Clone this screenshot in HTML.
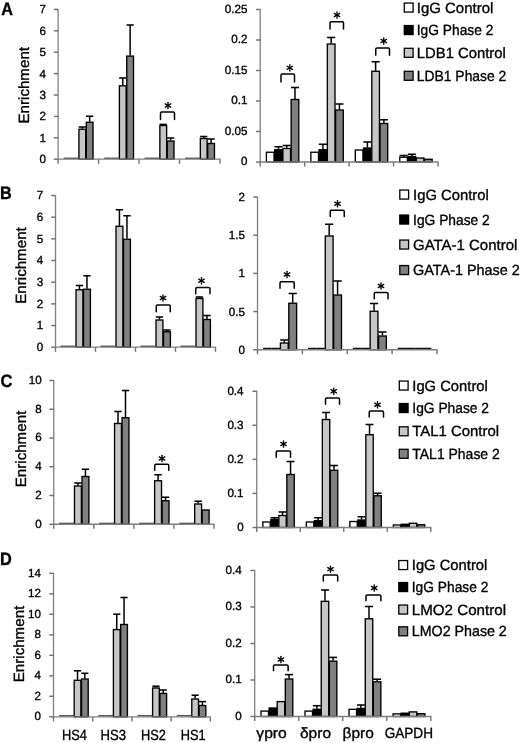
<!DOCTYPE html>
<html><head><meta charset="utf-8"><title>Figure</title>
<style>
html,body{margin:0;padding:0;background:#fff;}
body{width:520px;height:743px;overflow:hidden;}
svg{display:block;}
svg text{font-family:"Liberation Sans",sans-serif;fill:#000;stroke:#000;stroke-width:0.35px;text-rendering:geometricPrecision;}
</style></head><body>
<svg width="520" height="743" viewBox="0 0 520 743">
<defs><filter id="soft" x="0" y="0" width="520" height="743" filterUnits="userSpaceOnUse"><feGaussianBlur stdDeviation="0.38"/></filter></defs>
<rect width="520" height="743" fill="#fff"/>
<g filter="url(#soft)">
<rect width="520" height="743" fill="#fff"/>
<rect x="63.70" y="157.70" width="7.36" height="1.0" fill="#0a0a0a"/>
<rect x="71.06" y="157.70" width="7.36" height="1.0" fill="#0a0a0a"/>
<rect x="78.92" y="129.25" width="6.76" height="29.95" fill="#c6c6c6" stroke="#000" stroke-width="1.35"/>
<line x1="82.30" y1="128.75" x2="82.30" y2="127.00" stroke="#000" stroke-width="1.5" stroke-linecap="butt"/>
<line x1="78.69" y1="127.00" x2="85.91" y2="127.00" stroke="#000" stroke-width="1.55" stroke-linecap="butt"/>
<rect x="86.28" y="122.25" width="6.76" height="36.95" fill="#808080" stroke="#000" stroke-width="1.35"/>
<line x1="89.66" y1="121.75" x2="89.66" y2="116.25" stroke="#000" stroke-width="1.5" stroke-linecap="butt"/>
<line x1="86.05" y1="116.25" x2="93.27" y2="116.25" stroke="#000" stroke-width="1.55" stroke-linecap="butt"/>
<rect x="104.17" y="157.70" width="7.36" height="1.0" fill="#0a0a0a"/>
<rect x="111.53" y="157.70" width="7.36" height="1.0" fill="#0a0a0a"/>
<rect x="119.39" y="85.80" width="6.76" height="73.40" fill="#c6c6c6" stroke="#000" stroke-width="1.35"/>
<line x1="122.78" y1="85.30" x2="122.78" y2="78.00" stroke="#000" stroke-width="1.5" stroke-linecap="butt"/>
<line x1="119.17" y1="78.00" x2="126.38" y2="78.00" stroke="#000" stroke-width="1.55" stroke-linecap="butt"/>
<rect x="126.75" y="56.10" width="6.76" height="103.10" fill="#808080" stroke="#000" stroke-width="1.35"/>
<line x1="130.13" y1="55.60" x2="130.13" y2="25.00" stroke="#000" stroke-width="1.5" stroke-linecap="butt"/>
<line x1="126.53" y1="25.00" x2="133.74" y2="25.00" stroke="#000" stroke-width="1.55" stroke-linecap="butt"/>
<rect x="144.65" y="157.70" width="7.36" height="1.0" fill="#0a0a0a"/>
<rect x="152.01" y="157.70" width="7.36" height="1.0" fill="#0a0a0a"/>
<rect x="159.87" y="125.50" width="6.76" height="33.70" fill="#c6c6c6" stroke="#000" stroke-width="1.35"/>
<line x1="163.25" y1="125.00" x2="163.25" y2="124.40" stroke="#000" stroke-width="1.5" stroke-linecap="butt"/>
<line x1="159.64" y1="124.40" x2="166.86" y2="124.40" stroke="#000" stroke-width="1.55" stroke-linecap="butt"/>
<rect x="167.23" y="141.00" width="6.76" height="18.20" fill="#808080" stroke="#000" stroke-width="1.35"/>
<line x1="170.61" y1="140.50" x2="170.61" y2="138.00" stroke="#000" stroke-width="1.5" stroke-linecap="butt"/>
<line x1="167.00" y1="138.00" x2="174.22" y2="138.00" stroke="#000" stroke-width="1.55" stroke-linecap="butt"/>
<rect x="185.12" y="157.70" width="7.36" height="1.0" fill="#0a0a0a"/>
<rect x="192.49" y="157.70" width="7.36" height="1.0" fill="#0a0a0a"/>
<rect x="200.34" y="138.50" width="6.76" height="20.70" fill="#c6c6c6" stroke="#000" stroke-width="1.35"/>
<line x1="203.72" y1="138.00" x2="203.72" y2="136.50" stroke="#000" stroke-width="1.5" stroke-linecap="butt"/>
<line x1="200.12" y1="136.50" x2="207.33" y2="136.50" stroke="#000" stroke-width="1.55" stroke-linecap="butt"/>
<rect x="207.71" y="143.50" width="6.76" height="15.70" fill="#808080" stroke="#000" stroke-width="1.35"/>
<line x1="211.09" y1="143.00" x2="211.09" y2="139.00" stroke="#000" stroke-width="1.5" stroke-linecap="butt"/>
<line x1="207.48" y1="139.00" x2="214.69" y2="139.00" stroke="#000" stroke-width="1.55" stroke-linecap="butt"/>
<line x1="58.10" y1="9.00" x2="58.10" y2="159.80" stroke="#808080" stroke-width="1.3" stroke-linecap="butt"/>
<line x1="57.50" y1="159.20" x2="220.60" y2="159.20" stroke="#808080" stroke-width="1.3" stroke-linecap="butt"/>
<line x1="53.80" y1="9.40" x2="58.10" y2="9.40" stroke="#727272" stroke-width="1.45" stroke-linecap="butt"/>
<text x="39.45" y="13.45" font-size="11.8" font-weight="normal" text-anchor="start" textLength="6.45" lengthAdjust="spacingAndGlyphs">7</text>
<line x1="53.80" y1="30.80" x2="58.10" y2="30.80" stroke="#727272" stroke-width="1.45" stroke-linecap="butt"/>
<text x="39.45" y="34.85" font-size="11.8" font-weight="normal" text-anchor="start" textLength="6.45" lengthAdjust="spacingAndGlyphs">6</text>
<line x1="53.80" y1="52.20" x2="58.10" y2="52.20" stroke="#727272" stroke-width="1.45" stroke-linecap="butt"/>
<text x="39.45" y="56.25" font-size="11.8" font-weight="normal" text-anchor="start" textLength="6.45" lengthAdjust="spacingAndGlyphs">5</text>
<line x1="53.80" y1="73.60" x2="58.10" y2="73.60" stroke="#727272" stroke-width="1.45" stroke-linecap="butt"/>
<text x="39.45" y="77.65" font-size="11.8" font-weight="normal" text-anchor="start" textLength="6.45" lengthAdjust="spacingAndGlyphs">4</text>
<line x1="53.80" y1="95.00" x2="58.10" y2="95.00" stroke="#727272" stroke-width="1.45" stroke-linecap="butt"/>
<text x="39.45" y="99.05" font-size="11.8" font-weight="normal" text-anchor="start" textLength="6.45" lengthAdjust="spacingAndGlyphs">3</text>
<line x1="53.80" y1="116.40" x2="58.10" y2="116.40" stroke="#727272" stroke-width="1.45" stroke-linecap="butt"/>
<text x="39.45" y="120.45" font-size="11.8" font-weight="normal" text-anchor="start" textLength="6.45" lengthAdjust="spacingAndGlyphs">2</text>
<line x1="53.80" y1="137.80" x2="58.10" y2="137.80" stroke="#727272" stroke-width="1.45" stroke-linecap="butt"/>
<text x="39.45" y="141.85" font-size="11.8" font-weight="normal" text-anchor="start" textLength="6.45" lengthAdjust="spacingAndGlyphs">1</text>
<line x1="53.80" y1="159.20" x2="58.10" y2="159.20" stroke="#727272" stroke-width="1.45" stroke-linecap="butt"/>
<text x="39.45" y="163.25" font-size="11.8" font-weight="normal" text-anchor="start" textLength="6.45" lengthAdjust="spacingAndGlyphs">0</text>
<line x1="58.10" y1="159.20" x2="58.10" y2="163.80" stroke="#727272" stroke-width="1.4" stroke-linecap="butt"/>
<line x1="98.58" y1="159.20" x2="98.58" y2="163.80" stroke="#727272" stroke-width="1.4" stroke-linecap="butt"/>
<line x1="139.05" y1="159.20" x2="139.05" y2="163.80" stroke="#727272" stroke-width="1.4" stroke-linecap="butt"/>
<line x1="179.53" y1="159.20" x2="179.53" y2="163.80" stroke="#727272" stroke-width="1.4" stroke-linecap="butt"/>
<line x1="220.00" y1="159.20" x2="220.00" y2="163.80" stroke="#727272" stroke-width="1.4" stroke-linecap="butt"/>
<path d="M160.50 119.50 V113.20 Q160.50 112.00 161.70 112.00 H173.30 Q174.50 112.00 174.50 113.20 V119.50" fill="none" stroke="#000" stroke-width="1.5" stroke-linecap="round"/>
<line x1="168.00" y1="102.35" x2="168.00" y2="108.65" stroke="#000" stroke-width="1.35" stroke-linecap="round"/>
<line x1="165.27" y1="103.92" x2="170.73" y2="107.08" stroke="#000" stroke-width="1.35" stroke-linecap="round"/>
<line x1="170.73" y1="103.92" x2="165.27" y2="107.08" stroke="#000" stroke-width="1.35" stroke-linecap="round"/>
<rect x="266.40" y="152.25" width="7.65" height="9.75" fill="#ffffff" stroke="#000" stroke-width="1.35"/>
<rect x="274.65" y="149.75" width="7.65" height="12.25" fill="#000000" stroke="#000" stroke-width="1.35"/>
<line x1="278.47" y1="149.25" x2="278.47" y2="146.75" stroke="#000" stroke-width="1.5" stroke-linecap="butt"/>
<line x1="274.43" y1="146.75" x2="282.52" y2="146.75" stroke="#000" stroke-width="1.55" stroke-linecap="butt"/>
<rect x="282.90" y="148.50" width="7.65" height="13.50" fill="#c6c6c6" stroke="#000" stroke-width="1.35"/>
<line x1="286.72" y1="148.00" x2="286.72" y2="145.50" stroke="#000" stroke-width="1.5" stroke-linecap="butt"/>
<line x1="282.68" y1="145.50" x2="290.77" y2="145.50" stroke="#000" stroke-width="1.55" stroke-linecap="butt"/>
<rect x="291.15" y="99.50" width="7.65" height="62.50" fill="#808080" stroke="#000" stroke-width="1.35"/>
<line x1="294.97" y1="99.00" x2="294.97" y2="87.50" stroke="#000" stroke-width="1.5" stroke-linecap="butt"/>
<line x1="290.93" y1="87.50" x2="299.02" y2="87.50" stroke="#000" stroke-width="1.55" stroke-linecap="butt"/>
<rect x="310.85" y="152.25" width="7.65" height="9.75" fill="#ffffff" stroke="#000" stroke-width="1.35"/>
<rect x="319.10" y="149.75" width="7.65" height="12.25" fill="#000000" stroke="#000" stroke-width="1.35"/>
<line x1="322.92" y1="149.25" x2="322.92" y2="144.25" stroke="#000" stroke-width="1.5" stroke-linecap="butt"/>
<line x1="318.88" y1="144.25" x2="326.97" y2="144.25" stroke="#000" stroke-width="1.55" stroke-linecap="butt"/>
<rect x="327.35" y="44.00" width="7.65" height="118.00" fill="#c6c6c6" stroke="#000" stroke-width="1.35"/>
<line x1="331.17" y1="43.50" x2="331.17" y2="37.50" stroke="#000" stroke-width="1.5" stroke-linecap="butt"/>
<line x1="327.13" y1="37.50" x2="335.22" y2="37.50" stroke="#000" stroke-width="1.55" stroke-linecap="butt"/>
<rect x="335.60" y="110.00" width="7.65" height="52.00" fill="#808080" stroke="#000" stroke-width="1.35"/>
<line x1="339.42" y1="109.50" x2="339.42" y2="104.00" stroke="#000" stroke-width="1.5" stroke-linecap="butt"/>
<line x1="335.38" y1="104.00" x2="343.47" y2="104.00" stroke="#000" stroke-width="1.55" stroke-linecap="butt"/>
<rect x="355.30" y="150.00" width="7.65" height="12.00" fill="#ffffff" stroke="#000" stroke-width="1.35"/>
<rect x="363.55" y="148.00" width="7.65" height="14.00" fill="#000000" stroke="#000" stroke-width="1.35"/>
<line x1="367.38" y1="147.50" x2="367.38" y2="142.00" stroke="#000" stroke-width="1.5" stroke-linecap="butt"/>
<line x1="363.33" y1="142.00" x2="371.42" y2="142.00" stroke="#000" stroke-width="1.55" stroke-linecap="butt"/>
<rect x="371.80" y="71.25" width="7.65" height="90.75" fill="#c6c6c6" stroke="#000" stroke-width="1.35"/>
<line x1="375.62" y1="70.75" x2="375.62" y2="61.75" stroke="#000" stroke-width="1.5" stroke-linecap="butt"/>
<line x1="371.58" y1="61.75" x2="379.67" y2="61.75" stroke="#000" stroke-width="1.55" stroke-linecap="butt"/>
<rect x="380.05" y="123.50" width="7.65" height="38.50" fill="#808080" stroke="#000" stroke-width="1.35"/>
<line x1="383.88" y1="123.00" x2="383.88" y2="119.75" stroke="#000" stroke-width="1.5" stroke-linecap="butt"/>
<line x1="379.83" y1="119.75" x2="387.92" y2="119.75" stroke="#000" stroke-width="1.55" stroke-linecap="butt"/>
<rect x="399.75" y="157.25" width="7.65" height="4.75" fill="#ffffff" stroke="#000" stroke-width="1.35"/>
<line x1="403.57" y1="156.75" x2="403.57" y2="155.50" stroke="#000" stroke-width="1.5" stroke-linecap="butt"/>
<line x1="399.53" y1="155.50" x2="407.62" y2="155.50" stroke="#000" stroke-width="1.55" stroke-linecap="butt"/>
<rect x="408.00" y="156.50" width="7.65" height="5.50" fill="#000000" stroke="#000" stroke-width="1.35"/>
<line x1="411.82" y1="156.00" x2="411.82" y2="154.25" stroke="#000" stroke-width="1.5" stroke-linecap="butt"/>
<line x1="407.78" y1="154.25" x2="415.87" y2="154.25" stroke="#000" stroke-width="1.55" stroke-linecap="butt"/>
<rect x="416.25" y="158.00" width="7.65" height="4.00" fill="#c6c6c6" stroke="#000" stroke-width="1.35"/>
<rect x="424.50" y="159.25" width="7.65" height="2.75" fill="#808080" stroke="#000" stroke-width="1.35"/>
<line x1="260.20" y1="9.10" x2="260.20" y2="162.60" stroke="#808080" stroke-width="1.3" stroke-linecap="butt"/>
<line x1="259.60" y1="162.00" x2="438.60" y2="162.00" stroke="#808080" stroke-width="1.3" stroke-linecap="butt"/>
<line x1="255.90" y1="9.50" x2="260.20" y2="9.50" stroke="#727272" stroke-width="1.45" stroke-linecap="butt"/>
<text x="224.75" y="12.90" font-size="11.8" font-weight="normal" text-anchor="start" textLength="22.65" lengthAdjust="spacingAndGlyphs">0.25</text>
<line x1="255.90" y1="40.00" x2="260.20" y2="40.00" stroke="#727272" stroke-width="1.45" stroke-linecap="butt"/>
<text x="231.20" y="43.40" font-size="11.8" font-weight="normal" text-anchor="start" textLength="16.20" lengthAdjust="spacingAndGlyphs">0.2</text>
<line x1="255.90" y1="70.50" x2="260.20" y2="70.50" stroke="#727272" stroke-width="1.45" stroke-linecap="butt"/>
<text x="224.75" y="73.90" font-size="11.8" font-weight="normal" text-anchor="start" textLength="22.65" lengthAdjust="spacingAndGlyphs">0.15</text>
<line x1="255.90" y1="101.00" x2="260.20" y2="101.00" stroke="#727272" stroke-width="1.45" stroke-linecap="butt"/>
<text x="231.20" y="104.40" font-size="11.8" font-weight="normal" text-anchor="start" textLength="16.20" lengthAdjust="spacingAndGlyphs">0.1</text>
<line x1="255.90" y1="131.50" x2="260.20" y2="131.50" stroke="#727272" stroke-width="1.45" stroke-linecap="butt"/>
<text x="224.75" y="134.90" font-size="11.8" font-weight="normal" text-anchor="start" textLength="22.65" lengthAdjust="spacingAndGlyphs">0.05</text>
<line x1="255.90" y1="162.00" x2="260.20" y2="162.00" stroke="#727272" stroke-width="1.45" stroke-linecap="butt"/>
<text x="240.95" y="165.40" font-size="11.8" font-weight="normal" text-anchor="start" textLength="6.45" lengthAdjust="spacingAndGlyphs">0</text>
<line x1="260.20" y1="162.00" x2="260.20" y2="166.60" stroke="#727272" stroke-width="1.4" stroke-linecap="butt"/>
<line x1="304.65" y1="162.00" x2="304.65" y2="166.60" stroke="#727272" stroke-width="1.4" stroke-linecap="butt"/>
<line x1="349.10" y1="162.00" x2="349.10" y2="166.60" stroke="#727272" stroke-width="1.4" stroke-linecap="butt"/>
<line x1="393.55" y1="162.00" x2="393.55" y2="166.60" stroke="#727272" stroke-width="1.4" stroke-linecap="butt"/>
<line x1="438.00" y1="162.00" x2="438.00" y2="166.60" stroke="#727272" stroke-width="1.4" stroke-linecap="butt"/>
<path d="M281.00 82.00 V75.20 Q281.00 74.00 282.20 74.00 H293.30 Q294.50 74.00 294.50 75.20 V82.00" fill="none" stroke="#000" stroke-width="1.5" stroke-linecap="round"/>
<line x1="289.80" y1="64.65" x2="289.80" y2="70.95" stroke="#000" stroke-width="1.35" stroke-linecap="round"/>
<line x1="287.07" y1="66.22" x2="292.53" y2="69.38" stroke="#000" stroke-width="1.35" stroke-linecap="round"/>
<line x1="292.53" y1="66.22" x2="287.07" y2="69.38" stroke="#000" stroke-width="1.35" stroke-linecap="round"/>
<path d="M330.00 29.00 V22.95 Q330.00 21.75 331.20 21.75 H342.30 Q343.50 21.75 343.50 22.95 V29.00" fill="none" stroke="#000" stroke-width="1.5" stroke-linecap="round"/>
<line x1="337.00" y1="11.85" x2="337.00" y2="18.15" stroke="#000" stroke-width="1.35" stroke-linecap="round"/>
<line x1="334.27" y1="13.43" x2="339.73" y2="16.57" stroke="#000" stroke-width="1.35" stroke-linecap="round"/>
<line x1="339.73" y1="13.43" x2="334.27" y2="16.57" stroke="#000" stroke-width="1.35" stroke-linecap="round"/>
<path d="M375.75 55.25 V49.20 Q375.75 48.00 376.95 48.00 H388.30 Q389.50 48.00 389.50 49.20 V55.25" fill="none" stroke="#000" stroke-width="1.5" stroke-linecap="round"/>
<line x1="383.75" y1="37.85" x2="383.75" y2="44.15" stroke="#000" stroke-width="1.35" stroke-linecap="round"/>
<line x1="381.02" y1="39.42" x2="386.48" y2="42.58" stroke="#000" stroke-width="1.35" stroke-linecap="round"/>
<line x1="386.48" y1="39.42" x2="381.02" y2="42.58" stroke="#000" stroke-width="1.35" stroke-linecap="round"/>
<rect x="60.50" y="345.70" width="7.50" height="1.0" fill="#0a0a0a"/>
<rect x="68.00" y="345.70" width="7.50" height="1.0" fill="#0a0a0a"/>
<rect x="76.00" y="289.75" width="6.90" height="57.45" fill="#c6c6c6" stroke="#000" stroke-width="1.35"/>
<line x1="79.45" y1="289.25" x2="79.45" y2="285.50" stroke="#000" stroke-width="1.5" stroke-linecap="butt"/>
<line x1="75.78" y1="285.50" x2="83.12" y2="285.50" stroke="#000" stroke-width="1.55" stroke-linecap="butt"/>
<rect x="83.50" y="289.25" width="6.90" height="57.95" fill="#808080" stroke="#000" stroke-width="1.35"/>
<line x1="86.95" y1="288.75" x2="86.95" y2="275.75" stroke="#000" stroke-width="1.5" stroke-linecap="butt"/>
<line x1="83.28" y1="275.75" x2="90.62" y2="275.75" stroke="#000" stroke-width="1.55" stroke-linecap="butt"/>
<rect x="100.50" y="345.70" width="7.50" height="1.0" fill="#0a0a0a"/>
<rect x="108.00" y="345.70" width="7.50" height="1.0" fill="#0a0a0a"/>
<rect x="116.00" y="226.25" width="6.90" height="120.95" fill="#c6c6c6" stroke="#000" stroke-width="1.35"/>
<line x1="119.45" y1="225.75" x2="119.45" y2="209.75" stroke="#000" stroke-width="1.5" stroke-linecap="butt"/>
<line x1="115.78" y1="209.75" x2="123.12" y2="209.75" stroke="#000" stroke-width="1.55" stroke-linecap="butt"/>
<rect x="123.50" y="239.25" width="6.90" height="107.95" fill="#808080" stroke="#000" stroke-width="1.35"/>
<line x1="126.95" y1="238.75" x2="126.95" y2="215.75" stroke="#000" stroke-width="1.5" stroke-linecap="butt"/>
<line x1="123.28" y1="215.75" x2="130.62" y2="215.75" stroke="#000" stroke-width="1.55" stroke-linecap="butt"/>
<rect x="140.50" y="345.70" width="7.50" height="1.0" fill="#0a0a0a"/>
<rect x="148.00" y="345.70" width="7.50" height="1.0" fill="#0a0a0a"/>
<rect x="156.00" y="320.00" width="6.90" height="27.20" fill="#c6c6c6" stroke="#000" stroke-width="1.35"/>
<line x1="159.45" y1="319.50" x2="159.45" y2="317.00" stroke="#000" stroke-width="1.5" stroke-linecap="butt"/>
<line x1="155.77" y1="317.00" x2="163.12" y2="317.00" stroke="#000" stroke-width="1.55" stroke-linecap="butt"/>
<rect x="163.50" y="331.75" width="6.90" height="15.45" fill="#808080" stroke="#000" stroke-width="1.35"/>
<line x1="166.95" y1="331.25" x2="166.95" y2="330.00" stroke="#000" stroke-width="1.5" stroke-linecap="butt"/>
<line x1="163.27" y1="330.00" x2="170.62" y2="330.00" stroke="#000" stroke-width="1.55" stroke-linecap="butt"/>
<rect x="180.50" y="345.70" width="7.50" height="1.0" fill="#0a0a0a"/>
<rect x="188.00" y="345.70" width="7.50" height="1.0" fill="#0a0a0a"/>
<rect x="196.00" y="298.50" width="6.90" height="48.70" fill="#c6c6c6" stroke="#000" stroke-width="1.35"/>
<line x1="199.45" y1="298.00" x2="199.45" y2="297.00" stroke="#000" stroke-width="1.5" stroke-linecap="butt"/>
<line x1="195.77" y1="297.00" x2="203.12" y2="297.00" stroke="#000" stroke-width="1.55" stroke-linecap="butt"/>
<rect x="203.50" y="319.50" width="6.90" height="27.70" fill="#808080" stroke="#000" stroke-width="1.35"/>
<line x1="206.95" y1="319.00" x2="206.95" y2="315.50" stroke="#000" stroke-width="1.5" stroke-linecap="butt"/>
<line x1="203.27" y1="315.50" x2="210.62" y2="315.50" stroke="#000" stroke-width="1.55" stroke-linecap="butt"/>
<line x1="55.50" y1="195.10" x2="55.50" y2="347.80" stroke="#808080" stroke-width="1.3" stroke-linecap="butt"/>
<line x1="54.90" y1="347.20" x2="216.10" y2="347.20" stroke="#808080" stroke-width="1.3" stroke-linecap="butt"/>
<line x1="51.20" y1="195.50" x2="55.50" y2="195.50" stroke="#727272" stroke-width="1.45" stroke-linecap="butt"/>
<text x="36.85" y="199.20" font-size="11.8" font-weight="normal" text-anchor="start" textLength="6.45" lengthAdjust="spacingAndGlyphs">7</text>
<line x1="51.20" y1="217.17" x2="55.50" y2="217.17" stroke="#727272" stroke-width="1.45" stroke-linecap="butt"/>
<text x="36.85" y="220.87" font-size="11.8" font-weight="normal" text-anchor="start" textLength="6.45" lengthAdjust="spacingAndGlyphs">6</text>
<line x1="51.20" y1="238.84" x2="55.50" y2="238.84" stroke="#727272" stroke-width="1.45" stroke-linecap="butt"/>
<text x="36.85" y="242.54" font-size="11.8" font-weight="normal" text-anchor="start" textLength="6.45" lengthAdjust="spacingAndGlyphs">5</text>
<line x1="51.20" y1="260.51" x2="55.50" y2="260.51" stroke="#727272" stroke-width="1.45" stroke-linecap="butt"/>
<text x="36.85" y="264.21" font-size="11.8" font-weight="normal" text-anchor="start" textLength="6.45" lengthAdjust="spacingAndGlyphs">4</text>
<line x1="51.20" y1="282.19" x2="55.50" y2="282.19" stroke="#727272" stroke-width="1.45" stroke-linecap="butt"/>
<text x="36.85" y="285.89" font-size="11.8" font-weight="normal" text-anchor="start" textLength="6.45" lengthAdjust="spacingAndGlyphs">3</text>
<line x1="51.20" y1="303.86" x2="55.50" y2="303.86" stroke="#727272" stroke-width="1.45" stroke-linecap="butt"/>
<text x="36.85" y="307.56" font-size="11.8" font-weight="normal" text-anchor="start" textLength="6.45" lengthAdjust="spacingAndGlyphs">2</text>
<line x1="51.20" y1="325.53" x2="55.50" y2="325.53" stroke="#727272" stroke-width="1.45" stroke-linecap="butt"/>
<text x="36.85" y="329.23" font-size="11.8" font-weight="normal" text-anchor="start" textLength="6.45" lengthAdjust="spacingAndGlyphs">1</text>
<line x1="51.20" y1="347.20" x2="55.50" y2="347.20" stroke="#727272" stroke-width="1.45" stroke-linecap="butt"/>
<text x="36.85" y="350.90" font-size="11.8" font-weight="normal" text-anchor="start" textLength="6.45" lengthAdjust="spacingAndGlyphs">0</text>
<line x1="55.50" y1="347.20" x2="55.50" y2="351.80" stroke="#727272" stroke-width="1.4" stroke-linecap="butt"/>
<line x1="95.50" y1="347.20" x2="95.50" y2="351.80" stroke="#727272" stroke-width="1.4" stroke-linecap="butt"/>
<line x1="135.50" y1="347.20" x2="135.50" y2="351.80" stroke="#727272" stroke-width="1.4" stroke-linecap="butt"/>
<line x1="175.50" y1="347.20" x2="175.50" y2="351.80" stroke="#727272" stroke-width="1.4" stroke-linecap="butt"/>
<line x1="215.50" y1="347.20" x2="215.50" y2="351.80" stroke="#727272" stroke-width="1.4" stroke-linecap="butt"/>
<path d="M156.25 311.75 V306.20 Q156.25 305.00 157.45 305.00 H169.05 Q170.25 305.00 170.25 306.20 V311.75" fill="none" stroke="#000" stroke-width="1.5" stroke-linecap="round"/>
<line x1="163.00" y1="294.85" x2="163.00" y2="301.15" stroke="#000" stroke-width="1.35" stroke-linecap="round"/>
<line x1="160.27" y1="296.43" x2="165.73" y2="299.57" stroke="#000" stroke-width="1.35" stroke-linecap="round"/>
<line x1="165.73" y1="296.43" x2="160.27" y2="299.57" stroke="#000" stroke-width="1.35" stroke-linecap="round"/>
<path d="M195.75 293.75 V288.70 Q195.75 287.50 196.95 287.50 H208.80 Q210.00 287.50 210.00 288.70 V293.75" fill="none" stroke="#000" stroke-width="1.5" stroke-linecap="round"/>
<line x1="201.50" y1="277.60" x2="201.50" y2="283.90" stroke="#000" stroke-width="1.35" stroke-linecap="round"/>
<line x1="198.77" y1="279.18" x2="204.23" y2="282.32" stroke="#000" stroke-width="1.35" stroke-linecap="round"/>
<line x1="204.23" y1="279.18" x2="198.77" y2="282.32" stroke="#000" stroke-width="1.35" stroke-linecap="round"/>
<rect x="263.10" y="347.75" width="8.40" height="1.5" fill="#0a0a0a"/>
<rect x="271.50" y="347.75" width="8.40" height="1.5" fill="#0a0a0a"/>
<rect x="280.40" y="343.00" width="7.80" height="6.75" fill="#c6c6c6" stroke="#000" stroke-width="1.35"/>
<line x1="284.30" y1="342.50" x2="284.30" y2="340.00" stroke="#000" stroke-width="1.5" stroke-linecap="butt"/>
<line x1="280.18" y1="340.00" x2="288.42" y2="340.00" stroke="#000" stroke-width="1.55" stroke-linecap="butt"/>
<rect x="288.80" y="303.25" width="7.80" height="46.50" fill="#808080" stroke="#000" stroke-width="1.35"/>
<line x1="292.70" y1="302.75" x2="292.70" y2="293.50" stroke="#000" stroke-width="1.5" stroke-linecap="butt"/>
<line x1="288.58" y1="293.50" x2="296.82" y2="293.50" stroke="#000" stroke-width="1.55" stroke-linecap="butt"/>
<rect x="307.98" y="347.75" width="8.40" height="1.5" fill="#0a0a0a"/>
<rect x="316.38" y="347.75" width="8.40" height="1.5" fill="#0a0a0a"/>
<rect x="325.28" y="236.00" width="7.80" height="113.75" fill="#c6c6c6" stroke="#000" stroke-width="1.35"/>
<line x1="329.18" y1="235.50" x2="329.18" y2="224.25" stroke="#000" stroke-width="1.5" stroke-linecap="butt"/>
<line x1="325.06" y1="224.25" x2="333.29" y2="224.25" stroke="#000" stroke-width="1.55" stroke-linecap="butt"/>
<rect x="333.68" y="295.00" width="7.80" height="54.75" fill="#808080" stroke="#000" stroke-width="1.35"/>
<line x1="337.57" y1="294.50" x2="337.57" y2="281.00" stroke="#000" stroke-width="1.5" stroke-linecap="butt"/>
<line x1="333.46" y1="281.00" x2="341.69" y2="281.00" stroke="#000" stroke-width="1.55" stroke-linecap="butt"/>
<rect x="352.85" y="347.75" width="8.40" height="1.5" fill="#0a0a0a"/>
<rect x="361.25" y="347.75" width="8.40" height="1.5" fill="#0a0a0a"/>
<rect x="370.15" y="311.25" width="7.80" height="38.50" fill="#c6c6c6" stroke="#000" stroke-width="1.35"/>
<line x1="374.05" y1="310.75" x2="374.05" y2="303.50" stroke="#000" stroke-width="1.5" stroke-linecap="butt"/>
<line x1="369.93" y1="303.50" x2="378.17" y2="303.50" stroke="#000" stroke-width="1.55" stroke-linecap="butt"/>
<rect x="378.55" y="336.00" width="7.80" height="13.75" fill="#808080" stroke="#000" stroke-width="1.35"/>
<line x1="382.45" y1="335.50" x2="382.45" y2="332.00" stroke="#000" stroke-width="1.5" stroke-linecap="butt"/>
<line x1="378.33" y1="332.00" x2="386.57" y2="332.00" stroke="#000" stroke-width="1.55" stroke-linecap="butt"/>
<rect x="397.73" y="347.75" width="8.40" height="1.5" fill="#0a0a0a"/>
<rect x="406.12" y="347.75" width="8.40" height="1.5" fill="#0a0a0a"/>
<rect x="414.53" y="347.75" width="8.40" height="1.5" fill="#0a0a0a"/>
<rect x="422.93" y="347.75" width="8.40" height="1.5" fill="#0a0a0a"/>
<line x1="257.50" y1="196.60" x2="257.50" y2="350.35" stroke="#808080" stroke-width="1.3" stroke-linecap="butt"/>
<line x1="256.90" y1="349.75" x2="437.60" y2="349.75" stroke="#808080" stroke-width="1.3" stroke-linecap="butt"/>
<line x1="253.20" y1="197.00" x2="257.50" y2="197.00" stroke="#727272" stroke-width="1.45" stroke-linecap="butt"/>
<text x="238.60" y="201.00" font-size="11.8" font-weight="normal" text-anchor="start" textLength="6.45" lengthAdjust="spacingAndGlyphs">2</text>
<line x1="253.20" y1="235.19" x2="257.50" y2="235.19" stroke="#727272" stroke-width="1.45" stroke-linecap="butt"/>
<text x="228.85" y="239.19" font-size="11.8" font-weight="normal" text-anchor="start" textLength="16.20" lengthAdjust="spacingAndGlyphs">1.5</text>
<line x1="253.20" y1="273.38" x2="257.50" y2="273.38" stroke="#727272" stroke-width="1.45" stroke-linecap="butt"/>
<text x="238.60" y="277.38" font-size="11.8" font-weight="normal" text-anchor="start" textLength="6.45" lengthAdjust="spacingAndGlyphs">1</text>
<line x1="253.20" y1="311.56" x2="257.50" y2="311.56" stroke="#727272" stroke-width="1.45" stroke-linecap="butt"/>
<text x="228.85" y="315.56" font-size="11.8" font-weight="normal" text-anchor="start" textLength="16.20" lengthAdjust="spacingAndGlyphs">0.5</text>
<line x1="253.20" y1="349.75" x2="257.50" y2="349.75" stroke="#727272" stroke-width="1.45" stroke-linecap="butt"/>
<text x="238.60" y="353.75" font-size="11.8" font-weight="normal" text-anchor="start" textLength="6.45" lengthAdjust="spacingAndGlyphs">0</text>
<line x1="257.50" y1="349.75" x2="257.50" y2="354.35" stroke="#727272" stroke-width="1.4" stroke-linecap="butt"/>
<line x1="302.38" y1="349.75" x2="302.38" y2="354.35" stroke="#727272" stroke-width="1.4" stroke-linecap="butt"/>
<line x1="347.25" y1="349.75" x2="347.25" y2="354.35" stroke="#727272" stroke-width="1.4" stroke-linecap="butt"/>
<line x1="392.12" y1="349.75" x2="392.12" y2="354.35" stroke="#727272" stroke-width="1.4" stroke-linecap="butt"/>
<line x1="437.00" y1="349.75" x2="437.00" y2="354.35" stroke="#727272" stroke-width="1.4" stroke-linecap="butt"/>
<path d="M280.00 288.25 V282.95 Q280.00 281.75 281.20 281.75 H293.05 Q294.25 281.75 294.25 282.95 V288.25" fill="none" stroke="#000" stroke-width="1.5" stroke-linecap="round"/>
<line x1="287.00" y1="271.35" x2="287.00" y2="277.65" stroke="#000" stroke-width="1.35" stroke-linecap="round"/>
<line x1="284.27" y1="272.93" x2="289.73" y2="276.07" stroke="#000" stroke-width="1.35" stroke-linecap="round"/>
<line x1="289.73" y1="272.93" x2="284.27" y2="276.07" stroke="#000" stroke-width="1.35" stroke-linecap="round"/>
<path d="M330.25 216.50 V211.45 Q330.25 210.25 331.45 210.25 H343.05 Q344.25 210.25 344.25 211.45 V216.50" fill="none" stroke="#000" stroke-width="1.5" stroke-linecap="round"/>
<line x1="337.50" y1="200.60" x2="337.50" y2="206.90" stroke="#000" stroke-width="1.35" stroke-linecap="round"/>
<line x1="334.77" y1="202.18" x2="340.23" y2="205.32" stroke="#000" stroke-width="1.35" stroke-linecap="round"/>
<line x1="340.23" y1="202.18" x2="334.77" y2="205.32" stroke="#000" stroke-width="1.35" stroke-linecap="round"/>
<path d="M374.25 298.75 V293.70 Q374.25 292.50 375.45 292.50 H386.80 Q388.00 292.50 388.00 293.70 V298.75" fill="none" stroke="#000" stroke-width="1.5" stroke-linecap="round"/>
<line x1="381.00" y1="282.85" x2="381.00" y2="289.15" stroke="#000" stroke-width="1.35" stroke-linecap="round"/>
<line x1="378.27" y1="284.43" x2="383.73" y2="287.57" stroke="#000" stroke-width="1.35" stroke-linecap="round"/>
<line x1="383.73" y1="284.43" x2="378.27" y2="287.57" stroke="#000" stroke-width="1.35" stroke-linecap="round"/>
<rect x="59.00" y="522.75" width="7.50" height="1.0" fill="#0a0a0a"/>
<rect x="66.50" y="522.75" width="7.50" height="1.0" fill="#0a0a0a"/>
<rect x="74.50" y="486.00" width="6.90" height="38.25" fill="#c6c6c6" stroke="#000" stroke-width="1.35"/>
<line x1="77.95" y1="485.50" x2="77.95" y2="483.00" stroke="#000" stroke-width="1.5" stroke-linecap="butt"/>
<line x1="74.28" y1="483.00" x2="81.62" y2="483.00" stroke="#000" stroke-width="1.55" stroke-linecap="butt"/>
<rect x="82.00" y="476.50" width="6.90" height="47.75" fill="#808080" stroke="#000" stroke-width="1.35"/>
<line x1="85.45" y1="476.00" x2="85.45" y2="469.25" stroke="#000" stroke-width="1.5" stroke-linecap="butt"/>
<line x1="81.78" y1="469.25" x2="89.12" y2="469.25" stroke="#000" stroke-width="1.55" stroke-linecap="butt"/>
<rect x="99.06" y="522.75" width="7.50" height="1.0" fill="#0a0a0a"/>
<rect x="106.56" y="522.75" width="7.50" height="1.0" fill="#0a0a0a"/>
<rect x="114.56" y="423.50" width="6.90" height="100.75" fill="#c6c6c6" stroke="#000" stroke-width="1.35"/>
<line x1="118.01" y1="423.00" x2="118.01" y2="411.50" stroke="#000" stroke-width="1.5" stroke-linecap="butt"/>
<line x1="114.34" y1="411.50" x2="121.69" y2="411.50" stroke="#000" stroke-width="1.55" stroke-linecap="butt"/>
<rect x="122.06" y="417.75" width="6.90" height="106.50" fill="#808080" stroke="#000" stroke-width="1.35"/>
<line x1="125.51" y1="417.25" x2="125.51" y2="390.50" stroke="#000" stroke-width="1.5" stroke-linecap="butt"/>
<line x1="121.84" y1="390.50" x2="129.19" y2="390.50" stroke="#000" stroke-width="1.55" stroke-linecap="butt"/>
<rect x="139.12" y="522.75" width="7.50" height="1.0" fill="#0a0a0a"/>
<rect x="146.62" y="522.75" width="7.50" height="1.0" fill="#0a0a0a"/>
<rect x="154.62" y="480.75" width="6.90" height="43.50" fill="#c6c6c6" stroke="#000" stroke-width="1.35"/>
<line x1="158.07" y1="480.25" x2="158.07" y2="474.75" stroke="#000" stroke-width="1.5" stroke-linecap="butt"/>
<line x1="154.40" y1="474.75" x2="161.75" y2="474.75" stroke="#000" stroke-width="1.55" stroke-linecap="butt"/>
<rect x="162.12" y="500.75" width="6.90" height="23.50" fill="#808080" stroke="#000" stroke-width="1.35"/>
<line x1="165.57" y1="500.25" x2="165.57" y2="497.25" stroke="#000" stroke-width="1.5" stroke-linecap="butt"/>
<line x1="161.90" y1="497.25" x2="169.25" y2="497.25" stroke="#000" stroke-width="1.55" stroke-linecap="butt"/>
<rect x="179.19" y="522.75" width="7.50" height="1.0" fill="#0a0a0a"/>
<rect x="186.69" y="522.75" width="7.50" height="1.0" fill="#0a0a0a"/>
<rect x="194.69" y="504.00" width="6.90" height="20.25" fill="#c6c6c6" stroke="#000" stroke-width="1.35"/>
<line x1="198.14" y1="503.50" x2="198.14" y2="501.25" stroke="#000" stroke-width="1.5" stroke-linecap="butt"/>
<line x1="194.46" y1="501.25" x2="201.81" y2="501.25" stroke="#000" stroke-width="1.55" stroke-linecap="butt"/>
<rect x="202.19" y="510.00" width="6.90" height="14.25" fill="#808080" stroke="#000" stroke-width="1.35"/>
<line x1="53.75" y1="380.10" x2="53.75" y2="524.85" stroke="#808080" stroke-width="1.3" stroke-linecap="butt"/>
<line x1="53.15" y1="524.25" x2="214.60" y2="524.25" stroke="#808080" stroke-width="1.3" stroke-linecap="butt"/>
<line x1="49.45" y1="380.50" x2="53.75" y2="380.50" stroke="#727272" stroke-width="1.45" stroke-linecap="butt"/>
<text x="28.75" y="383.90" font-size="11.8" font-weight="normal" text-anchor="start" textLength="12.90" lengthAdjust="spacingAndGlyphs">10</text>
<line x1="49.45" y1="409.25" x2="53.75" y2="409.25" stroke="#727272" stroke-width="1.45" stroke-linecap="butt"/>
<text x="35.20" y="412.65" font-size="11.8" font-weight="normal" text-anchor="start" textLength="6.45" lengthAdjust="spacingAndGlyphs">8</text>
<line x1="49.45" y1="438.00" x2="53.75" y2="438.00" stroke="#727272" stroke-width="1.45" stroke-linecap="butt"/>
<text x="35.20" y="441.40" font-size="11.8" font-weight="normal" text-anchor="start" textLength="6.45" lengthAdjust="spacingAndGlyphs">6</text>
<line x1="49.45" y1="466.75" x2="53.75" y2="466.75" stroke="#727272" stroke-width="1.45" stroke-linecap="butt"/>
<text x="35.20" y="470.15" font-size="11.8" font-weight="normal" text-anchor="start" textLength="6.45" lengthAdjust="spacingAndGlyphs">4</text>
<line x1="49.45" y1="495.50" x2="53.75" y2="495.50" stroke="#727272" stroke-width="1.45" stroke-linecap="butt"/>
<text x="35.20" y="498.90" font-size="11.8" font-weight="normal" text-anchor="start" textLength="6.45" lengthAdjust="spacingAndGlyphs">2</text>
<line x1="49.45" y1="524.25" x2="53.75" y2="524.25" stroke="#727272" stroke-width="1.45" stroke-linecap="butt"/>
<text x="35.20" y="527.65" font-size="11.8" font-weight="normal" text-anchor="start" textLength="6.45" lengthAdjust="spacingAndGlyphs">0</text>
<line x1="53.75" y1="524.25" x2="53.75" y2="528.85" stroke="#727272" stroke-width="1.4" stroke-linecap="butt"/>
<line x1="93.81" y1="524.25" x2="93.81" y2="528.85" stroke="#727272" stroke-width="1.4" stroke-linecap="butt"/>
<line x1="133.88" y1="524.25" x2="133.88" y2="528.85" stroke="#727272" stroke-width="1.4" stroke-linecap="butt"/>
<line x1="173.94" y1="524.25" x2="173.94" y2="528.85" stroke="#727272" stroke-width="1.4" stroke-linecap="butt"/>
<line x1="214.00" y1="524.25" x2="214.00" y2="528.85" stroke="#727272" stroke-width="1.4" stroke-linecap="butt"/>
<path d="M154.75 470.25 V465.45 Q154.75 464.25 155.95 464.25 H167.55 Q168.75 464.25 168.75 465.45 V470.25" fill="none" stroke="#000" stroke-width="1.5" stroke-linecap="round"/>
<line x1="162.00" y1="455.35" x2="162.00" y2="461.65" stroke="#000" stroke-width="1.35" stroke-linecap="round"/>
<line x1="159.27" y1="456.93" x2="164.73" y2="460.07" stroke="#000" stroke-width="1.35" stroke-linecap="round"/>
<line x1="164.73" y1="456.93" x2="159.27" y2="460.07" stroke="#000" stroke-width="1.35" stroke-linecap="round"/>
<rect x="262.85" y="522.00" width="7.40" height="5.50" fill="#ffffff" stroke="#000" stroke-width="1.35"/>
<rect x="270.85" y="519.50" width="7.40" height="8.00" fill="#000000" stroke="#000" stroke-width="1.35"/>
<line x1="274.55" y1="519.00" x2="274.55" y2="517.75" stroke="#000" stroke-width="1.5" stroke-linecap="butt"/>
<line x1="270.63" y1="517.75" x2="278.47" y2="517.75" stroke="#000" stroke-width="1.55" stroke-linecap="butt"/>
<rect x="278.85" y="515.50" width="7.40" height="12.00" fill="#c6c6c6" stroke="#000" stroke-width="1.35"/>
<line x1="282.55" y1="515.00" x2="282.55" y2="512.00" stroke="#000" stroke-width="1.5" stroke-linecap="butt"/>
<line x1="278.63" y1="512.00" x2="286.47" y2="512.00" stroke="#000" stroke-width="1.55" stroke-linecap="butt"/>
<rect x="286.85" y="474.50" width="7.40" height="53.00" fill="#808080" stroke="#000" stroke-width="1.35"/>
<line x1="290.55" y1="474.00" x2="290.55" y2="461.50" stroke="#000" stroke-width="1.5" stroke-linecap="butt"/>
<line x1="286.63" y1="461.50" x2="294.47" y2="461.50" stroke="#000" stroke-width="1.55" stroke-linecap="butt"/>
<rect x="306.35" y="522.00" width="7.40" height="5.50" fill="#ffffff" stroke="#000" stroke-width="1.35"/>
<rect x="314.35" y="520.75" width="7.40" height="6.75" fill="#000000" stroke="#000" stroke-width="1.35"/>
<line x1="318.05" y1="520.25" x2="318.05" y2="517.75" stroke="#000" stroke-width="1.5" stroke-linecap="butt"/>
<line x1="314.13" y1="517.75" x2="321.97" y2="517.75" stroke="#000" stroke-width="1.55" stroke-linecap="butt"/>
<rect x="322.35" y="419.50" width="7.40" height="108.00" fill="#c6c6c6" stroke="#000" stroke-width="1.35"/>
<line x1="326.05" y1="419.00" x2="326.05" y2="412.50" stroke="#000" stroke-width="1.5" stroke-linecap="butt"/>
<line x1="322.13" y1="412.50" x2="329.97" y2="412.50" stroke="#000" stroke-width="1.55" stroke-linecap="butt"/>
<rect x="330.35" y="470.25" width="7.40" height="57.25" fill="#808080" stroke="#000" stroke-width="1.35"/>
<line x1="334.05" y1="469.75" x2="334.05" y2="465.50" stroke="#000" stroke-width="1.5" stroke-linecap="butt"/>
<line x1="330.13" y1="465.50" x2="337.97" y2="465.50" stroke="#000" stroke-width="1.55" stroke-linecap="butt"/>
<rect x="349.85" y="521.50" width="7.40" height="6.00" fill="#ffffff" stroke="#000" stroke-width="1.35"/>
<rect x="357.85" y="520.00" width="7.40" height="7.50" fill="#000000" stroke="#000" stroke-width="1.35"/>
<line x1="361.55" y1="519.50" x2="361.55" y2="516.75" stroke="#000" stroke-width="1.5" stroke-linecap="butt"/>
<line x1="357.63" y1="516.75" x2="365.47" y2="516.75" stroke="#000" stroke-width="1.55" stroke-linecap="butt"/>
<rect x="365.85" y="434.75" width="7.40" height="92.75" fill="#c6c6c6" stroke="#000" stroke-width="1.35"/>
<line x1="369.55" y1="434.25" x2="369.55" y2="424.50" stroke="#000" stroke-width="1.5" stroke-linecap="butt"/>
<line x1="365.63" y1="424.50" x2="373.47" y2="424.50" stroke="#000" stroke-width="1.55" stroke-linecap="butt"/>
<rect x="373.85" y="495.75" width="7.40" height="31.75" fill="#808080" stroke="#000" stroke-width="1.35"/>
<line x1="377.55" y1="495.25" x2="377.55" y2="493.25" stroke="#000" stroke-width="1.5" stroke-linecap="butt"/>
<line x1="373.63" y1="493.25" x2="381.47" y2="493.25" stroke="#000" stroke-width="1.55" stroke-linecap="butt"/>
<rect x="393.35" y="525.00" width="7.40" height="2.50" fill="#ffffff" stroke="#000" stroke-width="1.35"/>
<rect x="401.35" y="524.25" width="7.40" height="3.25" fill="#000000" stroke="#000" stroke-width="1.35"/>
<rect x="409.35" y="523.25" width="7.40" height="4.25" fill="#c6c6c6" stroke="#000" stroke-width="1.35"/>
<rect x="417.35" y="524.75" width="7.40" height="2.75" fill="#808080" stroke="#000" stroke-width="1.35"/>
<line x1="256.75" y1="390.85" x2="256.75" y2="528.10" stroke="#808080" stroke-width="1.3" stroke-linecap="butt"/>
<line x1="256.15" y1="527.50" x2="431.35" y2="527.50" stroke="#808080" stroke-width="1.3" stroke-linecap="butt"/>
<line x1="252.45" y1="391.25" x2="256.75" y2="391.25" stroke="#727272" stroke-width="1.45" stroke-linecap="butt"/>
<text x="227.40" y="394.65" font-size="11.8" font-weight="normal" text-anchor="start" textLength="16.20" lengthAdjust="spacingAndGlyphs">0.4</text>
<line x1="252.45" y1="425.31" x2="256.75" y2="425.31" stroke="#727272" stroke-width="1.45" stroke-linecap="butt"/>
<text x="227.40" y="428.71" font-size="11.8" font-weight="normal" text-anchor="start" textLength="16.20" lengthAdjust="spacingAndGlyphs">0.3</text>
<line x1="252.45" y1="459.38" x2="256.75" y2="459.38" stroke="#727272" stroke-width="1.45" stroke-linecap="butt"/>
<text x="227.40" y="462.77" font-size="11.8" font-weight="normal" text-anchor="start" textLength="16.20" lengthAdjust="spacingAndGlyphs">0.2</text>
<line x1="252.45" y1="493.44" x2="256.75" y2="493.44" stroke="#727272" stroke-width="1.45" stroke-linecap="butt"/>
<text x="227.40" y="496.84" font-size="11.8" font-weight="normal" text-anchor="start" textLength="16.20" lengthAdjust="spacingAndGlyphs">0.1</text>
<line x1="252.45" y1="527.50" x2="256.75" y2="527.50" stroke="#727272" stroke-width="1.45" stroke-linecap="butt"/>
<text x="237.15" y="530.90" font-size="11.8" font-weight="normal" text-anchor="start" textLength="6.45" lengthAdjust="spacingAndGlyphs">0</text>
<line x1="256.75" y1="527.50" x2="256.75" y2="532.10" stroke="#727272" stroke-width="1.4" stroke-linecap="butt"/>
<line x1="300.25" y1="527.50" x2="300.25" y2="532.10" stroke="#727272" stroke-width="1.4" stroke-linecap="butt"/>
<line x1="343.75" y1="527.50" x2="343.75" y2="532.10" stroke="#727272" stroke-width="1.4" stroke-linecap="butt"/>
<line x1="387.25" y1="527.50" x2="387.25" y2="532.10" stroke="#727272" stroke-width="1.4" stroke-linecap="butt"/>
<line x1="430.75" y1="527.50" x2="430.75" y2="532.10" stroke="#727272" stroke-width="1.4" stroke-linecap="butt"/>
<path d="M276.25 457.25 V452.20 Q276.25 451.00 277.45 451.00 H289.30 Q290.50 451.00 290.50 452.20 V457.25" fill="none" stroke="#000" stroke-width="1.5" stroke-linecap="round"/>
<line x1="283.50" y1="440.85" x2="283.50" y2="447.15" stroke="#000" stroke-width="1.35" stroke-linecap="round"/>
<line x1="280.77" y1="442.43" x2="286.23" y2="445.57" stroke="#000" stroke-width="1.35" stroke-linecap="round"/>
<line x1="286.23" y1="442.43" x2="280.77" y2="445.57" stroke="#000" stroke-width="1.35" stroke-linecap="round"/>
<path d="M325.50 404.25 V399.20 Q325.50 398.00 326.70 398.00 H338.30 Q339.50 398.00 339.50 399.20 V404.25" fill="none" stroke="#000" stroke-width="1.5" stroke-linecap="round"/>
<line x1="333.75" y1="388.10" x2="333.75" y2="394.40" stroke="#000" stroke-width="1.35" stroke-linecap="round"/>
<line x1="331.02" y1="389.68" x2="336.48" y2="392.82" stroke="#000" stroke-width="1.35" stroke-linecap="round"/>
<line x1="336.48" y1="389.68" x2="331.02" y2="392.82" stroke="#000" stroke-width="1.35" stroke-linecap="round"/>
<path d="M369.25 417.00 V412.20 Q369.25 411.00 370.45 411.00 H382.30 Q383.50 411.00 383.50 412.20 V417.00" fill="none" stroke="#000" stroke-width="1.5" stroke-linecap="round"/>
<line x1="377.50" y1="401.60" x2="377.50" y2="407.90" stroke="#000" stroke-width="1.35" stroke-linecap="round"/>
<line x1="374.77" y1="403.18" x2="380.23" y2="406.32" stroke="#000" stroke-width="1.35" stroke-linecap="round"/>
<line x1="380.23" y1="403.18" x2="374.77" y2="406.32" stroke="#000" stroke-width="1.35" stroke-linecap="round"/>
<rect x="59.10" y="715.30" width="7.30" height="1.0" fill="#0a0a0a"/>
<rect x="66.40" y="715.30" width="7.30" height="1.0" fill="#0a0a0a"/>
<rect x="74.20" y="680.30" width="6.70" height="36.50" fill="#c6c6c6" stroke="#000" stroke-width="1.35"/>
<line x1="77.55" y1="679.80" x2="77.55" y2="670.80" stroke="#000" stroke-width="1.5" stroke-linecap="butt"/>
<line x1="73.97" y1="670.80" x2="81.13" y2="670.80" stroke="#000" stroke-width="1.55" stroke-linecap="butt"/>
<rect x="81.50" y="679.00" width="6.70" height="37.80" fill="#808080" stroke="#000" stroke-width="1.35"/>
<line x1="84.85" y1="678.50" x2="84.85" y2="673.30" stroke="#000" stroke-width="1.5" stroke-linecap="butt"/>
<line x1="81.27" y1="673.30" x2="88.43" y2="673.30" stroke="#000" stroke-width="1.55" stroke-linecap="butt"/>
<rect x="98.30" y="715.30" width="7.30" height="1.0" fill="#0a0a0a"/>
<rect x="105.60" y="715.30" width="7.30" height="1.0" fill="#0a0a0a"/>
<rect x="113.40" y="629.60" width="6.70" height="87.20" fill="#c6c6c6" stroke="#000" stroke-width="1.35"/>
<line x1="116.75" y1="629.10" x2="116.75" y2="614.20" stroke="#000" stroke-width="1.5" stroke-linecap="butt"/>
<line x1="113.17" y1="614.20" x2="120.33" y2="614.20" stroke="#000" stroke-width="1.55" stroke-linecap="butt"/>
<rect x="120.70" y="624.50" width="6.70" height="92.30" fill="#808080" stroke="#000" stroke-width="1.35"/>
<line x1="124.05" y1="624.00" x2="124.05" y2="597.50" stroke="#000" stroke-width="1.5" stroke-linecap="butt"/>
<line x1="120.47" y1="597.50" x2="127.63" y2="597.50" stroke="#000" stroke-width="1.55" stroke-linecap="butt"/>
<rect x="137.50" y="715.30" width="7.30" height="1.0" fill="#0a0a0a"/>
<rect x="144.80" y="715.30" width="7.30" height="1.0" fill="#0a0a0a"/>
<rect x="152.60" y="688.00" width="6.70" height="28.80" fill="#c6c6c6" stroke="#000" stroke-width="1.35"/>
<line x1="155.95" y1="687.50" x2="155.95" y2="686.20" stroke="#000" stroke-width="1.5" stroke-linecap="butt"/>
<line x1="152.37" y1="686.20" x2="159.53" y2="686.20" stroke="#000" stroke-width="1.55" stroke-linecap="butt"/>
<rect x="159.90" y="693.40" width="6.70" height="23.40" fill="#808080" stroke="#000" stroke-width="1.35"/>
<line x1="163.25" y1="692.90" x2="163.25" y2="690.00" stroke="#000" stroke-width="1.5" stroke-linecap="butt"/>
<line x1="159.67" y1="690.00" x2="166.83" y2="690.00" stroke="#000" stroke-width="1.55" stroke-linecap="butt"/>
<rect x="176.70" y="715.30" width="7.30" height="1.0" fill="#0a0a0a"/>
<rect x="184.00" y="715.30" width="7.30" height="1.0" fill="#0a0a0a"/>
<rect x="191.80" y="699.00" width="6.70" height="17.80" fill="#c6c6c6" stroke="#000" stroke-width="1.35"/>
<line x1="195.15" y1="698.50" x2="195.15" y2="695.20" stroke="#000" stroke-width="1.5" stroke-linecap="butt"/>
<line x1="191.57" y1="695.20" x2="198.73" y2="695.20" stroke="#000" stroke-width="1.55" stroke-linecap="butt"/>
<rect x="199.10" y="705.50" width="6.70" height="11.30" fill="#808080" stroke="#000" stroke-width="1.35"/>
<line x1="202.45" y1="705.00" x2="202.45" y2="701.60" stroke="#000" stroke-width="1.5" stroke-linecap="butt"/>
<line x1="198.87" y1="701.60" x2="206.03" y2="701.60" stroke="#000" stroke-width="1.55" stroke-linecap="butt"/>
<line x1="53.50" y1="572.90" x2="53.50" y2="717.40" stroke="#808080" stroke-width="1.3" stroke-linecap="butt"/>
<line x1="52.90" y1="716.80" x2="210.90" y2="716.80" stroke="#808080" stroke-width="1.3" stroke-linecap="butt"/>
<line x1="49.20" y1="573.30" x2="53.50" y2="573.30" stroke="#727272" stroke-width="1.45" stroke-linecap="butt"/>
<text x="28.10" y="576.95" font-size="11.8" font-weight="normal" text-anchor="start" textLength="12.90" lengthAdjust="spacingAndGlyphs">14</text>
<line x1="49.20" y1="593.80" x2="53.50" y2="593.80" stroke="#727272" stroke-width="1.45" stroke-linecap="butt"/>
<text x="28.10" y="597.45" font-size="11.8" font-weight="normal" text-anchor="start" textLength="12.90" lengthAdjust="spacingAndGlyphs">12</text>
<line x1="49.20" y1="614.30" x2="53.50" y2="614.30" stroke="#727272" stroke-width="1.45" stroke-linecap="butt"/>
<text x="28.10" y="617.95" font-size="11.8" font-weight="normal" text-anchor="start" textLength="12.90" lengthAdjust="spacingAndGlyphs">10</text>
<line x1="49.20" y1="634.80" x2="53.50" y2="634.80" stroke="#727272" stroke-width="1.45" stroke-linecap="butt"/>
<text x="34.55" y="638.45" font-size="11.8" font-weight="normal" text-anchor="start" textLength="6.45" lengthAdjust="spacingAndGlyphs">8</text>
<line x1="49.20" y1="655.30" x2="53.50" y2="655.30" stroke="#727272" stroke-width="1.45" stroke-linecap="butt"/>
<text x="34.55" y="658.95" font-size="11.8" font-weight="normal" text-anchor="start" textLength="6.45" lengthAdjust="spacingAndGlyphs">6</text>
<line x1="49.20" y1="675.80" x2="53.50" y2="675.80" stroke="#727272" stroke-width="1.45" stroke-linecap="butt"/>
<text x="34.55" y="679.45" font-size="11.8" font-weight="normal" text-anchor="start" textLength="6.45" lengthAdjust="spacingAndGlyphs">4</text>
<line x1="49.20" y1="696.30" x2="53.50" y2="696.30" stroke="#727272" stroke-width="1.45" stroke-linecap="butt"/>
<text x="34.55" y="699.95" font-size="11.8" font-weight="normal" text-anchor="start" textLength="6.45" lengthAdjust="spacingAndGlyphs">2</text>
<line x1="49.20" y1="716.80" x2="53.50" y2="716.80" stroke="#727272" stroke-width="1.45" stroke-linecap="butt"/>
<text x="34.55" y="720.45" font-size="11.8" font-weight="normal" text-anchor="start" textLength="6.45" lengthAdjust="spacingAndGlyphs">0</text>
<line x1="53.50" y1="716.80" x2="53.50" y2="721.40" stroke="#727272" stroke-width="1.4" stroke-linecap="butt"/>
<line x1="92.70" y1="716.80" x2="92.70" y2="721.40" stroke="#727272" stroke-width="1.4" stroke-linecap="butt"/>
<line x1="131.90" y1="716.80" x2="131.90" y2="721.40" stroke="#727272" stroke-width="1.4" stroke-linecap="butt"/>
<line x1="171.10" y1="716.80" x2="171.10" y2="721.40" stroke="#727272" stroke-width="1.4" stroke-linecap="butt"/>
<line x1="210.30" y1="716.80" x2="210.30" y2="721.40" stroke="#727272" stroke-width="1.4" stroke-linecap="butt"/>
<rect x="261.00" y="711.10" width="7.50" height="5.40" fill="#ffffff" stroke="#000" stroke-width="1.35"/>
<rect x="269.10" y="708.00" width="7.50" height="8.50" fill="#000000" stroke="#000" stroke-width="1.35"/>
<rect x="277.20" y="701.60" width="7.50" height="14.90" fill="#c6c6c6" stroke="#000" stroke-width="1.35"/>
<rect x="285.30" y="679.00" width="7.50" height="37.50" fill="#808080" stroke="#000" stroke-width="1.35"/>
<line x1="289.05" y1="678.50" x2="289.05" y2="674.60" stroke="#000" stroke-width="1.5" stroke-linecap="butt"/>
<line x1="285.08" y1="674.60" x2="293.02" y2="674.60" stroke="#000" stroke-width="1.55" stroke-linecap="butt"/>
<rect x="305.03" y="711.10" width="7.50" height="5.40" fill="#ffffff" stroke="#000" stroke-width="1.35"/>
<rect x="313.13" y="709.30" width="7.50" height="7.20" fill="#000000" stroke="#000" stroke-width="1.35"/>
<line x1="316.88" y1="708.80" x2="316.88" y2="705.70" stroke="#000" stroke-width="1.5" stroke-linecap="butt"/>
<line x1="312.91" y1="705.70" x2="320.84" y2="705.70" stroke="#000" stroke-width="1.55" stroke-linecap="butt"/>
<rect x="321.23" y="601.30" width="7.50" height="115.20" fill="#c6c6c6" stroke="#000" stroke-width="1.35"/>
<line x1="324.98" y1="600.80" x2="324.98" y2="590.00" stroke="#000" stroke-width="1.5" stroke-linecap="butt"/>
<line x1="321.01" y1="590.00" x2="328.94" y2="590.00" stroke="#000" stroke-width="1.55" stroke-linecap="butt"/>
<rect x="329.33" y="661.20" width="7.50" height="55.30" fill="#808080" stroke="#000" stroke-width="1.35"/>
<line x1="333.08" y1="660.70" x2="333.08" y2="657.40" stroke="#000" stroke-width="1.5" stroke-linecap="butt"/>
<line x1="329.11" y1="657.40" x2="337.04" y2="657.40" stroke="#000" stroke-width="1.55" stroke-linecap="butt"/>
<rect x="349.05" y="709.30" width="7.50" height="7.20" fill="#ffffff" stroke="#000" stroke-width="1.35"/>
<rect x="357.15" y="708.50" width="7.50" height="8.00" fill="#000000" stroke="#000" stroke-width="1.35"/>
<line x1="360.90" y1="708.00" x2="360.90" y2="705.00" stroke="#000" stroke-width="1.5" stroke-linecap="butt"/>
<line x1="356.93" y1="705.00" x2="364.87" y2="705.00" stroke="#000" stroke-width="1.55" stroke-linecap="butt"/>
<rect x="365.25" y="618.80" width="7.50" height="97.70" fill="#c6c6c6" stroke="#000" stroke-width="1.35"/>
<line x1="369.00" y1="618.30" x2="369.00" y2="606.50" stroke="#000" stroke-width="1.5" stroke-linecap="butt"/>
<line x1="365.03" y1="606.50" x2="372.97" y2="606.50" stroke="#000" stroke-width="1.55" stroke-linecap="butt"/>
<rect x="373.35" y="681.80" width="7.50" height="34.70" fill="#808080" stroke="#000" stroke-width="1.35"/>
<line x1="377.10" y1="681.30" x2="377.10" y2="679.20" stroke="#000" stroke-width="1.5" stroke-linecap="butt"/>
<line x1="373.13" y1="679.20" x2="381.07" y2="679.20" stroke="#000" stroke-width="1.55" stroke-linecap="butt"/>
<rect x="393.07" y="713.90" width="7.50" height="2.60" fill="#ffffff" stroke="#000" stroke-width="1.35"/>
<rect x="401.18" y="713.20" width="7.50" height="3.30" fill="#000000" stroke="#000" stroke-width="1.35"/>
<rect x="409.27" y="711.90" width="7.50" height="4.60" fill="#c6c6c6" stroke="#000" stroke-width="1.35"/>
<rect x="417.38" y="713.70" width="7.50" height="2.80" fill="#808080" stroke="#000" stroke-width="1.35"/>
<line x1="254.70" y1="570.10" x2="254.70" y2="717.10" stroke="#808080" stroke-width="1.3" stroke-linecap="butt"/>
<line x1="254.10" y1="716.50" x2="431.40" y2="716.50" stroke="#808080" stroke-width="1.3" stroke-linecap="butt"/>
<line x1="250.40" y1="570.50" x2="254.70" y2="570.50" stroke="#727272" stroke-width="1.45" stroke-linecap="butt"/>
<text x="225.60" y="573.60" font-size="11.8" font-weight="normal" text-anchor="start" textLength="16.20" lengthAdjust="spacingAndGlyphs">0.4</text>
<line x1="250.40" y1="607.00" x2="254.70" y2="607.00" stroke="#727272" stroke-width="1.45" stroke-linecap="butt"/>
<text x="225.60" y="610.10" font-size="11.8" font-weight="normal" text-anchor="start" textLength="16.20" lengthAdjust="spacingAndGlyphs">0.3</text>
<line x1="250.40" y1="643.50" x2="254.70" y2="643.50" stroke="#727272" stroke-width="1.45" stroke-linecap="butt"/>
<text x="225.60" y="646.60" font-size="11.8" font-weight="normal" text-anchor="start" textLength="16.20" lengthAdjust="spacingAndGlyphs">0.2</text>
<line x1="250.40" y1="680.00" x2="254.70" y2="680.00" stroke="#727272" stroke-width="1.45" stroke-linecap="butt"/>
<text x="225.60" y="683.10" font-size="11.8" font-weight="normal" text-anchor="start" textLength="16.20" lengthAdjust="spacingAndGlyphs">0.1</text>
<line x1="250.40" y1="716.50" x2="254.70" y2="716.50" stroke="#727272" stroke-width="1.45" stroke-linecap="butt"/>
<text x="235.35" y="719.60" font-size="11.8" font-weight="normal" text-anchor="start" textLength="6.45" lengthAdjust="spacingAndGlyphs">0</text>
<line x1="254.70" y1="716.50" x2="254.70" y2="721.10" stroke="#727272" stroke-width="1.4" stroke-linecap="butt"/>
<line x1="298.73" y1="716.50" x2="298.73" y2="721.10" stroke="#727272" stroke-width="1.4" stroke-linecap="butt"/>
<line x1="342.75" y1="716.50" x2="342.75" y2="721.10" stroke="#727272" stroke-width="1.4" stroke-linecap="butt"/>
<line x1="386.77" y1="716.50" x2="386.77" y2="721.10" stroke="#727272" stroke-width="1.4" stroke-linecap="butt"/>
<line x1="430.80" y1="716.50" x2="430.80" y2="721.10" stroke="#727272" stroke-width="1.4" stroke-linecap="butt"/>
<path d="M273.50 670.80 V666.30 Q273.50 665.10 274.70 665.10 H286.90 Q288.10 665.10 288.10 666.30 V670.80" fill="none" stroke="#000" stroke-width="1.5" stroke-linecap="round"/>
<line x1="280.90" y1="656.35" x2="280.90" y2="662.65" stroke="#000" stroke-width="1.35" stroke-linecap="round"/>
<line x1="278.17" y1="657.92" x2="283.63" y2="661.08" stroke="#000" stroke-width="1.35" stroke-linecap="round"/>
<line x1="283.63" y1="657.92" x2="278.17" y2="661.08" stroke="#000" stroke-width="1.35" stroke-linecap="round"/>
<path d="M323.30 581.00 V576.30 Q323.30 575.10 324.50 575.10 H336.50 Q337.70 575.10 337.70 576.30 V581.00" fill="none" stroke="#000" stroke-width="1.5" stroke-linecap="round"/>
<line x1="330.50" y1="566.05" x2="330.50" y2="572.35" stroke="#000" stroke-width="1.35" stroke-linecap="round"/>
<line x1="327.77" y1="567.62" x2="333.23" y2="570.78" stroke="#000" stroke-width="1.35" stroke-linecap="round"/>
<line x1="333.23" y1="567.62" x2="327.77" y2="570.78" stroke="#000" stroke-width="1.35" stroke-linecap="round"/>
<path d="M366.00 600.80 V596.10 Q366.00 594.90 367.20 594.90 H379.70 Q380.90 594.90 380.90 596.10 V600.80" fill="none" stroke="#000" stroke-width="1.5" stroke-linecap="round"/>
<line x1="374.20" y1="584.85" x2="374.20" y2="591.15" stroke="#000" stroke-width="1.35" stroke-linecap="round"/>
<line x1="371.47" y1="586.42" x2="376.93" y2="589.58" stroke="#000" stroke-width="1.35" stroke-linecap="round"/>
<line x1="376.93" y1="586.42" x2="371.47" y2="589.58" stroke="#000" stroke-width="1.35" stroke-linecap="round"/>
<text x="61.90" y="739.70" font-size="14.8" font-weight="normal" text-anchor="start" textLength="25.00" lengthAdjust="spacingAndGlyphs">HS4</text>
<text x="100.60" y="739.70" font-size="14.8" font-weight="normal" text-anchor="start" textLength="25.50" lengthAdjust="spacingAndGlyphs">HS3</text>
<text x="141.10" y="739.70" font-size="14.8" font-weight="normal" text-anchor="start" textLength="24.90" lengthAdjust="spacingAndGlyphs">HS2</text>
<text x="180.70" y="739.70" font-size="14.8" font-weight="normal" text-anchor="start" textLength="24.90" lengthAdjust="spacingAndGlyphs">HS1</text>
<text x="256.30" y="738.40" font-size="14.8" font-weight="normal" text-anchor="start" textLength="30.50" lengthAdjust="spacingAndGlyphs">γpro</text>
<text x="300.00" y="738.40" font-size="14.8" font-weight="normal" text-anchor="start" textLength="31.00" lengthAdjust="spacingAndGlyphs">δpro</text>
<text x="342.60" y="738.40" font-size="14.8" font-weight="normal" text-anchor="start" textLength="31.30" lengthAdjust="spacingAndGlyphs">βpro</text>
<text x="384.70" y="738.40" font-size="14.8" font-weight="normal" text-anchor="start" textLength="48.30" lengthAdjust="spacingAndGlyphs">GAPDH</text>
<text x="1.20" y="15.30" font-size="18" font-weight="bold" text-anchor="start" textLength="11.70" lengthAdjust="spacingAndGlyphs">A</text>
<text x="0.10" y="199.00" font-size="18" font-weight="bold" text-anchor="start" textLength="11.70" lengthAdjust="spacingAndGlyphs">B</text>
<text x="0.50" y="387.20" font-size="18" font-weight="bold" text-anchor="start" textLength="11.90" lengthAdjust="spacingAndGlyphs">C</text>
<text x="0.10" y="565.30" font-size="18" font-weight="bold" text-anchor="start" textLength="11.80" lengthAdjust="spacingAndGlyphs">D</text>
<text transform="translate(28.6,123.5) rotate(-90)" font-size="14.8" textLength="76.5" lengthAdjust="spacingAndGlyphs">Enrichment</text>
<text transform="translate(26.3,303.75) rotate(-90)" font-size="14.8" textLength="76.5" lengthAdjust="spacingAndGlyphs">Enrichment</text>
<text transform="translate(26.3,487.25) rotate(-90)" font-size="14.8" textLength="76.5" lengthAdjust="spacingAndGlyphs">Enrichment</text>
<text transform="translate(24.3,682.25) rotate(-90)" font-size="14.8" textLength="76.5" lengthAdjust="spacingAndGlyphs">Enrichment</text>
<rect x="404.30" y="3.05" width="8.8" height="9.0" fill="#ffffff" stroke="#000" stroke-width="1.3"/>
<text x="416.80" y="12.50" font-size="14.8" font-weight="normal" text-anchor="start" textLength="76.50" lengthAdjust="spacingAndGlyphs">IgG Control</text>
<rect x="404.30" y="25.55" width="8.8" height="9.0" fill="#000000" stroke="#000" stroke-width="1.3"/>
<text x="416.80" y="35.00" font-size="14.8" font-weight="normal" text-anchor="start" textLength="76.50" lengthAdjust="spacingAndGlyphs">IgG Phase 2</text>
<rect x="404.30" y="48.30" width="8.8" height="9.0" fill="#c6c6c6" stroke="#000" stroke-width="1.3"/>
<text x="416.80" y="57.75" font-size="14.8" font-weight="normal" text-anchor="start" textLength="89.00" lengthAdjust="spacingAndGlyphs">LDB1 Control</text>
<rect x="404.30" y="71.30" width="8.8" height="9.0" fill="#808080" stroke="#000" stroke-width="1.3"/>
<text x="416.80" y="80.75" font-size="14.8" font-weight="normal" text-anchor="start" textLength="89.50" lengthAdjust="spacingAndGlyphs">LDB1 Phase 2</text>
<rect x="399.80" y="190.05" width="8.8" height="9.0" fill="#ffffff" stroke="#000" stroke-width="1.3"/>
<text x="413.05" y="199.50" font-size="14.8" font-weight="normal" text-anchor="start" textLength="75.75" lengthAdjust="spacingAndGlyphs">IgG Control</text>
<rect x="399.80" y="215.05" width="8.8" height="9.0" fill="#000000" stroke="#000" stroke-width="1.3"/>
<text x="413.05" y="224.50" font-size="14.8" font-weight="normal" text-anchor="start" textLength="76.75" lengthAdjust="spacingAndGlyphs">IgG Phase 2</text>
<rect x="399.80" y="240.05" width="8.8" height="9.0" fill="#c6c6c6" stroke="#000" stroke-width="1.3"/>
<text x="413.05" y="249.50" font-size="14.8" font-weight="normal" text-anchor="start" textLength="104.25" lengthAdjust="spacingAndGlyphs">GATA-1 Control</text>
<rect x="399.80" y="265.55" width="8.8" height="9.0" fill="#808080" stroke="#000" stroke-width="1.3"/>
<text x="413.05" y="275.00" font-size="14.8" font-weight="normal" text-anchor="start" textLength="106.75" lengthAdjust="spacingAndGlyphs">GATA-1 Phase 2</text>
<rect x="399.30" y="381.05" width="8.8" height="9.0" fill="#ffffff" stroke="#000" stroke-width="1.3"/>
<text x="412.30" y="390.50" font-size="14.8" font-weight="normal" text-anchor="start" textLength="75.50" lengthAdjust="spacingAndGlyphs">IgG Control</text>
<rect x="399.30" y="403.55" width="8.8" height="9.0" fill="#000000" stroke="#000" stroke-width="1.3"/>
<text x="412.30" y="413.00" font-size="14.8" font-weight="normal" text-anchor="start" textLength="76.75" lengthAdjust="spacingAndGlyphs">IgG Phase 2</text>
<rect x="399.30" y="426.80" width="8.8" height="9.0" fill="#c6c6c6" stroke="#000" stroke-width="1.3"/>
<text x="412.30" y="436.25" font-size="14.8" font-weight="normal" text-anchor="start" textLength="86.75" lengthAdjust="spacingAndGlyphs">TAL1 Control</text>
<rect x="399.30" y="449.30" width="8.8" height="9.0" fill="#808080" stroke="#000" stroke-width="1.3"/>
<text x="412.30" y="458.75" font-size="14.8" font-weight="normal" text-anchor="start" textLength="87.50" lengthAdjust="spacingAndGlyphs">TAL1 Phase 2</text>
<rect x="398.80" y="560.55" width="8.8" height="9.0" fill="#ffffff" stroke="#000" stroke-width="1.3"/>
<text x="411.80" y="570.00" font-size="14.8" font-weight="normal" text-anchor="start" textLength="75.50" lengthAdjust="spacingAndGlyphs">IgG Control</text>
<rect x="398.80" y="582.55" width="8.8" height="9.0" fill="#000000" stroke="#000" stroke-width="1.3"/>
<text x="411.80" y="592.00" font-size="14.8" font-weight="normal" text-anchor="start" textLength="76.50" lengthAdjust="spacingAndGlyphs">IgG Phase 2</text>
<rect x="398.80" y="605.05" width="8.8" height="9.0" fill="#c6c6c6" stroke="#000" stroke-width="1.3"/>
<text x="411.80" y="614.50" font-size="14.8" font-weight="normal" text-anchor="start" textLength="94.25" lengthAdjust="spacingAndGlyphs">LMO2 Control</text>
<rect x="398.80" y="626.80" width="8.8" height="9.0" fill="#808080" stroke="#000" stroke-width="1.3"/>
<text x="411.80" y="636.25" font-size="14.8" font-weight="normal" text-anchor="start" textLength="95.00" lengthAdjust="spacingAndGlyphs">LMO2 Phase 2</text>
</g>
</svg>
</body></html>
